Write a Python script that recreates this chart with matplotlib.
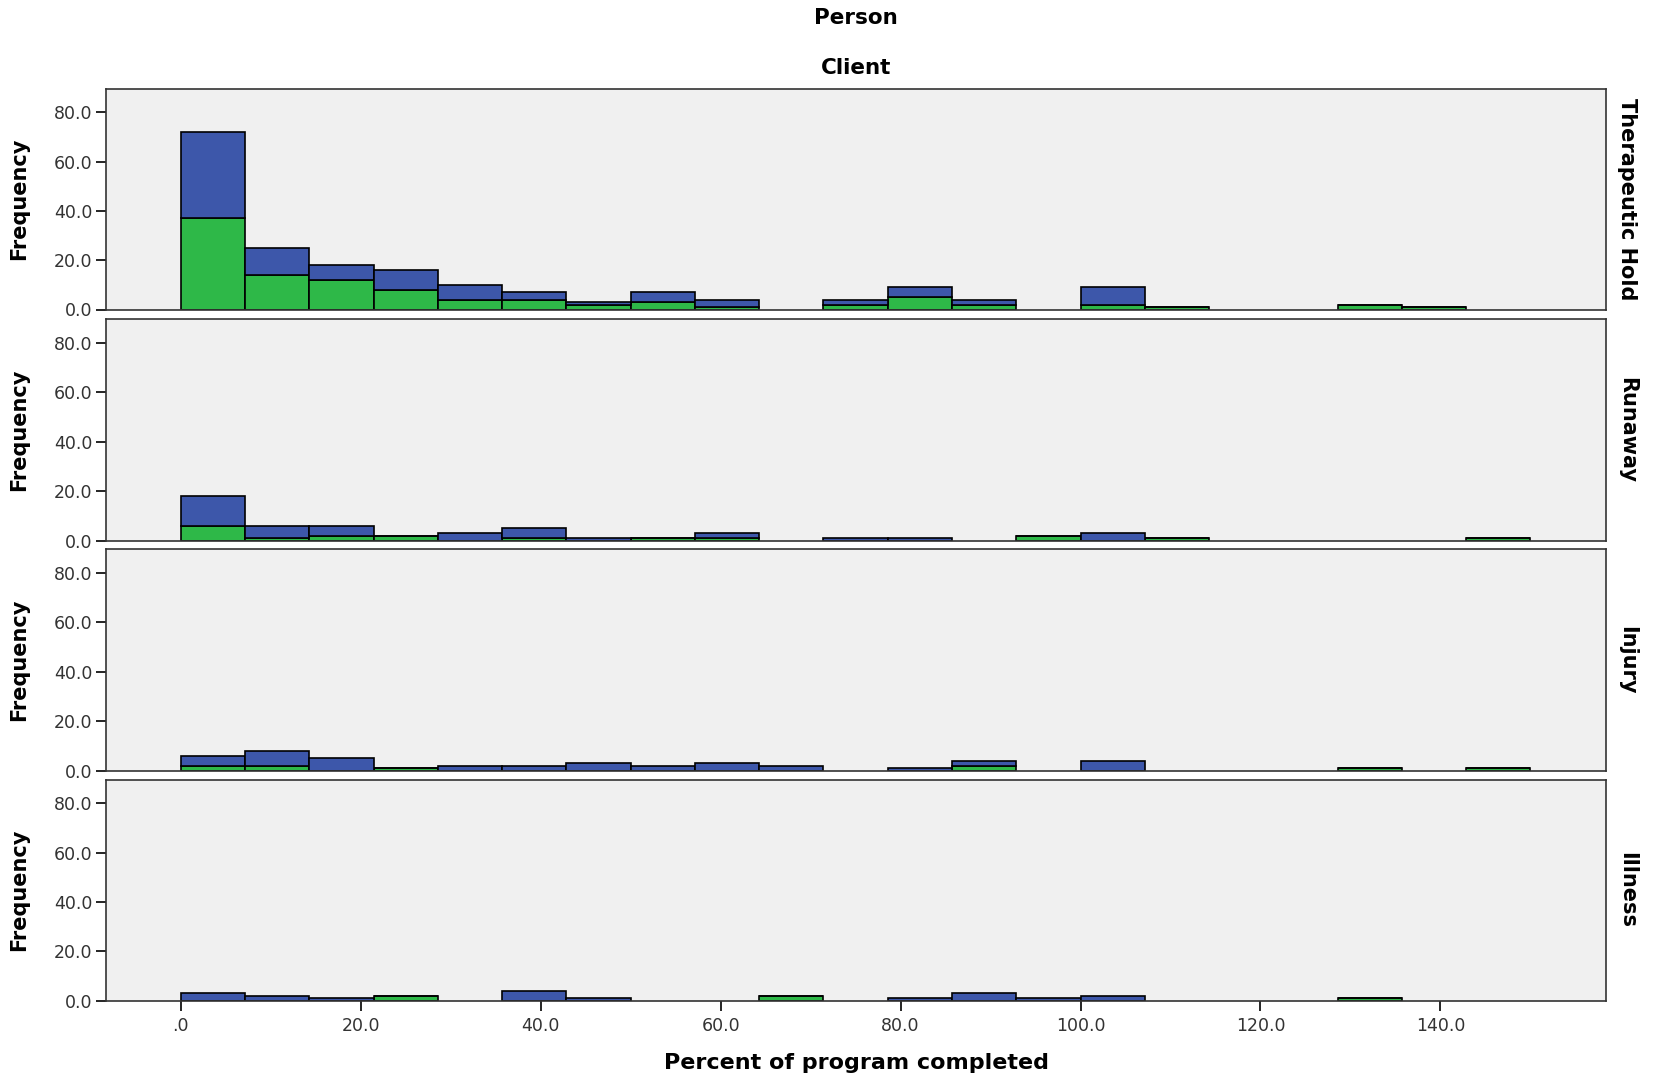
import numpy as np
import matplotlib
matplotlib.use("Agg")
import matplotlib.pyplot as plt

# bins: 0..150 in 21 equal bins
bin_edges = np.linspace(0, 150, 22)

panels = ["Therapeutic Hold", "Runaway", "Injury", "Illness"]

# counts per bin (green = lower segment, blue = upper segment)
hold_green = [37, 14, 12, 8, 4, 4, 2, 3, 1, 0, 2, 5, 2, 0, 2, 1, 0, 0, 2, 1, 0]
hold_blue = [35, 11, 6, 8, 6, 3, 1, 4, 3, 0, 2, 4, 2, 0, 7, 0, 0, 0, 0, 0, 0]

run_green = [6, 1, 2, 2, 0, 1, 0, 1, 1, 0, 0, 0, 0, 2, 0, 1, 0, 0, 0, 0, 1]
run_blue = [12, 5, 4, 0, 3, 4, 1, 0, 2, 0, 1, 1, 0, 0, 3, 0, 0, 0, 0, 0, 0]

inj_green = [2, 2, 0, 1, 0, 0, 0, 0, 0, 0, 0, 0, 2, 0, 0, 0, 0, 0, 1, 0, 1]
inj_blue = [4, 6, 5, 0, 2, 2, 3, 2, 3, 2, 0, 1, 2, 0, 4, 0, 0, 0, 0, 0, 0]

ill_green = [0, 0, 0, 2, 0, 0, 0, 0, 0, 2, 0, 0, 0, 0, 0, 0, 0, 0, 1, 0, 0]
ill_blue = [3, 2, 1, 0, 0, 4, 1, 0, 0, 0, 0, 1, 3, 1, 2, 0, 0, 0, 0, 0, 0]

greens = [hold_green, run_green, inj_green, ill_green]
blues = [hold_blue, run_blue, inj_blue, ill_blue]

y_ticks = [0, 20, 40, 60, 80]
x_ticks = [0, 20, 40, 60, 80, 100, 120, 140]
x_tick_labels = [".0", "20.0", "40.0", "60.0", "80.0", "100.0", "120.0", "140.0"]

green_col = "#2eb848"
blue_col = "#3d57aa"
bg = "#f0f0f0"
tick_col = "#333333"

W, H = 1662, 1081
fig = plt.figure(figsize=(W / 100, H / 100), dpi=100)

# panel boxes in pixels (top, bottom)
boxes = [(89, 309.5), (319, 540.6), (549, 770.6), (780, 1000.6)]
left, right = 106, 1606

width = bin_edges[1] - bin_edges[0]
lefts = bin_edges[:-1]

for i, (top, bottom) in enumerate(boxes):
    ax = fig.add_axes([left / W, 1 - bottom / H, (right - left) / W, (bottom - top) / H])
    ax.set_facecolor(bg)
    g = np.array(greens[i])
    b = np.array(blues[i])
    m = (g + b) > 0
    ax.bar(lefts[m], g[m], width=width, align="edge", color=green_col,
           edgecolor="black", linewidth=1.2, zorder=2)
    ax.bar(lefts[m], b[m], bottom=g[m], width=width, align="edge", color=blue_col,
           edgecolor="black", linewidth=1.2, zorder=2)
    ax.set_xlim(-8.3, 158.4)
    ax.set_ylim(0, 89.5)
    ax.set_yticks(y_ticks)
    ax.set_yticklabels(["%.1f" % v for v in y_ticks], fontsize=12.5, color=tick_col)
    ax.tick_params(axis="y", direction="out", length=7, width=1.2, pad=3)
    for s in ax.spines.values():
        s.set_linewidth(1.2)
        s.set_color("#333333")
    mid = 1 - (top + bottom) / 2 / H
    fig.text(19 / W, mid, "Frequency", rotation=90, ha="center", va="center",
             fontsize=15, fontweight="bold")
    fig.text(1627 / W, mid, panels[i], rotation=-90, ha="center", va="center",
             fontsize=15, fontweight="bold")
    if i < 3:
        ax.set_xticks([])
    else:
        ax.set_xticks(x_ticks)
        ax.set_xticklabels(x_tick_labels, fontsize=12.5, color=tick_col)
        ax.tick_params(axis="x", direction="out", length=7, width=1.2, pad=5)

fig.text(856 / W, 1 - 1063 / H, "Percent of program completed", ha="center", va="center",
         fontsize=16, fontweight="bold")
fig.text(856 / W, 1 - 18 / H, "Person", ha="center", va="center", fontsize=15.5, fontweight="bold")
fig.text(856 / W, 1 - 68 / H, "Client", ha="center", va="center", fontsize=15.5, fontweight="bold")

fig.savefig("out.png", dpi=100)
